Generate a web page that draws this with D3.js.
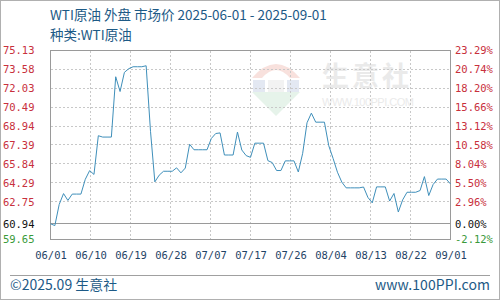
<!DOCTYPE html>
<html><head><meta charset="utf-8">
<script src="https://cdn.jsdelivr.net/npm/d3@7"></script>
<style>body{margin:0;background:#fff}svg{display:block}</style>
</head><body>
<svg id="c" width="500" height="300"></svg>
<script>
const titleText = "WTI原油 外盘 市场价 2025-06-01 - 2025-09-01";
const subtitleText = "种类:WTI原油";
const footerLeft = "©2025.09 生意社";
const footerRight = "www.100PPI.com";
const startDate = "2025-06-01";
const prices = [
  60.94, 60.79, 62.52, 63.41, 62.85, 63.37, 63.37, 63.37, 64.58, 65.29,
  64.98, 68.15, 68.04, 68.04, 68.04, 72.98, 71.77, 73.34, 73.64, 73.80,
  73.80, 73.80, 73.88, 68.51, 64.37, 64.92, 65.24, 65.24, 65.24, 65.52,
  65.11, 65.50, 67.45, 67.00, 67.00, 67.00, 67.00, 67.93, 68.33, 68.38,
  66.57, 66.57, 66.57, 68.45, 66.98, 66.52, 66.38, 67.54, 67.54, 67.54,
  66.11, 65.95, 65.30, 65.30, 66.09, 66.09, 66.09, 65.18, 66.71, 69.21,
  70.00, 69.26, 69.26, 69.26, 67.33, 66.29, 65.16, 64.35, 63.88, 63.88,
  63.88, 63.88, 63.95, 63.10, 62.65, 63.96, 63.96, 63.96, 62.80, 63.42,
  61.90, 62.90, 63.52, 63.52, 63.52, 63.66, 64.80, 63.25, 64.15, 64.60,
  64.60, 64.60, 64.20
];
const xTickLabels = ["06/01","06/10","06/19","06/28","07/07","07/17","07/26","08/04","08/13","08/22","09/01"];
const gridValues = [75.13, 73.58, 72.03, 70.49, 68.94, 67.39, 65.84, 64.29, 62.75];
const baseValue = 60.94;
const yMin = 59.65, yMax = 75.13;
const leftLabels = ["75.13","73.58","72.03","70.49","68.94","67.39","65.84","64.29","62.75","60.94","59.65"];
const rightLabels = ["23.29%","20.74%","18.20%","15.66%","13.12%","10.58%","8.04%","5.50%","2.96%","0.00%","-2.12%"];

const RED = "#c8303c", GREEN = "#3a9a3a", BLACK = "#111", BLUE = "#1d5a86";
const svg = d3.select("#c");
const P = {l: 50.5, r: 450.5, t: 50.5, b: 239.5};

const dates = d3.timeDay.range(new Date(startDate + "T00:00"), d3.timeDay.offset(new Date(startDate + "T00:00"), prices.length));
const data = prices.map((v, i) => ({i, date: dates[i], v}));

const x = d3.scaleLinear().domain([0, prices.length - 1]).range([P.l, P.r]);
const xt = d3.scalePoint().domain(xTickLabels).range([P.l, P.r]);
const y = d3.scaleLinear().domain([yMin, yMax]).range([P.b, P.t]);
const snap = v => Math.round(v - 0.5) + 0.5;

// outer frame
svg.append("rect").attr("x", 0.5).attr("y", 0.5).attr("width", 499).attr("height", 299)
  .attr("fill", "#fff").attr("stroke", "#b0b0b0");

// watermark
const wm = svg.append("g").attr("opacity", 0.5);
wm.append("path").attr("d", "M252,78 Q276,50 300,78 L290,78 Q276,62 262,78 Z").attr("fill", "#f2c4bc");
wm.append("rect").attr("x", 253).attr("y", 80).attr("width", 12).attr("height", 12).attr("fill", "#c9d3e6");
wm.append("rect").attr("x", 268).attr("y", 80).attr("width", 16).attr("height", 12).attr("fill", "#e6e6e6");
wm.append("rect").attr("x", 287).attr("y", 80).attr("width", 12).attr("height", 12).attr("fill", "#c9d3e6");
wm.append("path").attr("d", "M252,92 L300,92 L276,116 Z").attr("fill", "#cfe9d6");
wm.append("text").attr("x", 322).attr("y", 86).attr("font-family", "Noto Sans CJK SC").attr("font-weight", 700)
  .attr("font-size", 27).attr("fill", "#d6d6d6").attr("letter-spacing", 3).text("生意社");
wm.append("text").attr("x", 322).attr("y", 106).attr("font-family", "Liberation Sans")
  .attr("font-size", 11).attr("fill", "#d6d6d6").attr("textLength", 92).text("WWW.100PPI.COM");

// grid
const grid = svg.append("g").attr("stroke", "#c8c8c8").attr("stroke-dasharray", "2,2").attr("shape-rendering", "crispEdges");
grid.selectAll("line.h").data(gridValues.slice(1)).join("line")
  .attr("x1", P.l).attr("x2", P.r).attr("y1", d => snap(y(d))).attr("y2", d => snap(y(d)));
grid.selectAll("line.v").data(xTickLabels.slice(1, -1)).join("line")
  .attr("y1", P.t).attr("y2", P.b).attr("x1", d => snap(xt(d))).attr("x2", d => snap(xt(d)));

// baseline
svg.append("line").attr("x1", P.l).attr("x2", P.r).attr("y1", snap(y(baseValue))).attr("y2", snap(y(baseValue)))
  .attr("stroke", "#9a9a9a").attr("shape-rendering", "crispEdges");

// plot frame
svg.append("rect").attr("x", P.l).attr("y", P.t).attr("width", P.r - P.l).attr("height", P.b - P.t)
  .attr("fill", "none").attr("stroke", "#9a9a9a").attr("shape-rendering", "crispEdges");

// line
svg.append("path").datum(data)
  .attr("fill", "none").attr("stroke", "#3f8fba").attr("stroke-width", 1).attr("stroke-linejoin", "round")
  .attr("d", d3.line().x(d => x(d.i)).y(d => y(d.v)));

// axes
const axisVals = gridValues.concat([baseValue, yMin]);
const colorOf = v => v > baseValue ? RED : (v < baseValue ? GREEN : BLACK);
const monoFont = "DejaVu Sans Mono";

const leftAxis = svg.append("g").attr("transform", `translate(${P.l},0)`)
  .call(d3.axisLeft(y).tickValues(axisVals).tickSize(0).tickPadding(16)
    .tickFormat((d, i) => leftLabels[i]));
const rightAxis = svg.append("g").attr("transform", `translate(${P.r},0)`)
  .call(d3.axisRight(y).tickValues(axisVals).tickSize(0).tickPadding(4.5)
    .tickFormat((d, i) => rightLabels[i]));
[leftAxis, rightAxis].forEach(g => {
  g.select(".domain").remove();
  g.selectAll("text").attr("font-family", monoFont).attr("font-size", 10.5)
    .attr("fill", d => colorOf(d));
});

const xAxis = svg.append("g").attr("transform", `translate(0,${P.b})`)
  .call(d3.axisBottom(xt).tickSize(0).tickPadding(12));
xAxis.select(".domain").remove();
xAxis.selectAll("text").attr("font-family", monoFont).attr("font-size", 10.5).attr("fill", "#1f4466");

// titles
svg.append("text").attr("x", 50).attr("y", 20).attr("font-family", "Noto Sans CJK SC")
  .attr("font-size", 13.5).attr("fill", BLUE).text(titleText);
svg.append("text").attr("x", 50).attr("y", 40).attr("font-family", "Noto Sans CJK SC")
  .attr("font-size", 13.5).attr("fill", BLUE).text(subtitleText);

// footer
svg.append("line").attr("x1", 10).attr("x2", 490).attr("y1", 275.5).attr("y2", 275.5)
  .attr("stroke", "#a0a0a0");
svg.append("text").attr("x", 10).attr("y", 290).attr("font-family", "Noto Sans CJK SC")
  .attr("font-size", 14).attr("fill", BLUE).text(footerLeft);
svg.append("text").attr("x", 375).attr("y", 290).attr("font-family", "Noto Sans CJK SC")
  .attr("font-size", 14).attr("fill", BLUE).attr("textLength", 115).attr("lengthAdjust", "spacing").text(footerRight);
</script>
</body></html>
